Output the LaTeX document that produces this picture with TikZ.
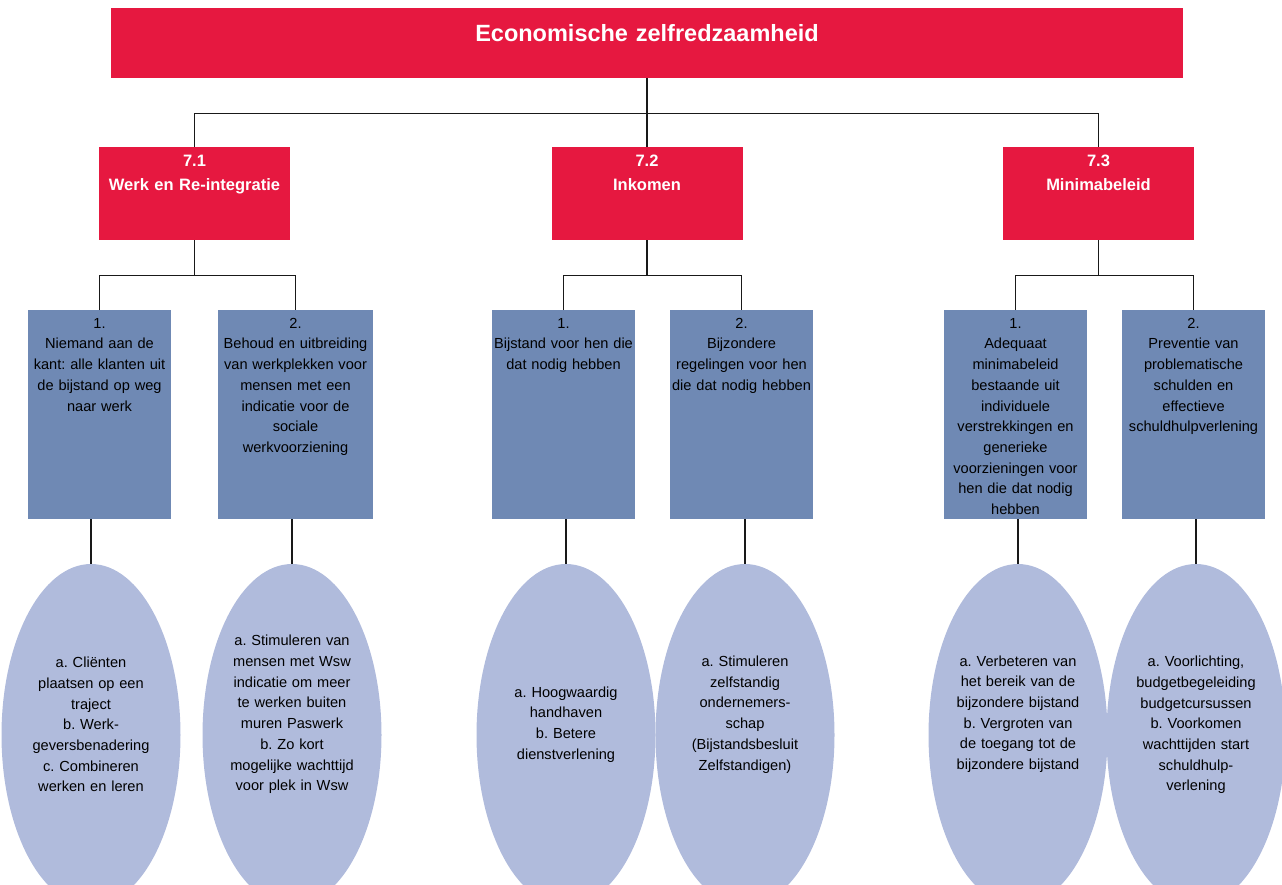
\documentclass[tikz,border=0pt]{standalone}
\usepackage{fontspec}
\setmainfont{Liberation Sans}
\usetikzlibrary{shapes.geometric}
\definecolor{myred}{RGB}{230,24,64}
\definecolor{myblue}{RGB}{111,137,180}
\definecolor{lightlilac}{RGB}{176,187,220}
\frenchspacing

\begin{document}
\begin{tikzpicture}[x=1pt,y=-1pt,
    mainbox/.style={fill=myred,text=white,inner sep=0pt,anchor=north,font=\bfseries\fontsize{23.5}{28}\selectfont,minimum width=1072pt,text width=1060pt,align=center,text height=33pt,text depth=37pt},
    themebox/.style={fill=myred,text=white,inner sep=0pt,anchor=north,font=\bfseries\fontsize{16.5}{24}\selectfont,minimum width=191pt,text width=185pt,align=center,text height=19pt,text depth=74pt},
    goalbox/.style={fill=myblue,inner sep=0pt,anchor=north,font=\fontsize{14.6}{20.7}\selectfont,minimum width=143pt,text width=139pt,align=center,text height=18pt,text depth=191pt},
    actie/.style={ellipse,fill=lightlilac,inner sep=0pt,minimum width=179pt,minimum height=342pt},
    actietext/.style={font=\fontsize{14.6}{20.7}\selectfont,text width=150pt,align=center,inner sep=0pt},
    conn/.style={line width=1.3pt,draw=black!90}]
    \useasboundingbox (0,0) rectangle (1282,884);
    \clip (0,0) rectangle (1282,884);

    % title
    \node[mainbox] (top) at (647,8) {Economische zelfredzaamheid};

    % themes
    \node[themebox] (t71) at (194.5,147) {7.1\\Werk en Re-integratie};
    \node[themebox] (t72) at (647,147) {7.2\\Inkomen};
    \node[themebox] (t73) at (1098.5,147) {7.3\\Minimabeleid};

    % goals
    \node[goalbox] (g11) at (99.5,310) {1.\\Niemand aan de\\kant: alle klanten uit\\de bijstand op weg\\naar werk};
    \node[goalbox,minimum width=155pt,text width=151pt] (g12) at (295.5,310) {2.\\Behoud en uitbreiding\\van werkplekken voor\\mensen met een\\indicatie voor de\\sociale\\werkvoorziening};
    \node[goalbox] (g21) at (563.5,310) {1.\\Bijstand voor hen die\\dat nodig hebben};
    \node[goalbox] (g22) at (741.5,310) {2.\\Bijzondere\\regelingen voor hen\\die dat nodig hebben};
    \node[goalbox] (g31) at (1015.5,310) {1.\\Adequaat\\minimabeleid\\bestaande uit\\individuele\\verstrekkingen en\\generieke\\voorzieningen voor\\hen die dat nodig\\hebben};
    \node[goalbox] (g32) at (1193.5,310) {2.\\Preventie van\\problematische\\schulden en\\effectieve\\schuldhulpverlening};

    % actions
    \node[actie] (e11) at (91,735) {};
    \node[actie] (e12) at (292,735) {};
    \node[actie] (e21) at (566,735) {};
    \node[actie] (e22) at (745,735) {};
    \node[actie] (e31) at (1018,735) {};
    \node[actie] (e32) at (1196,735) {};
    \node[actietext,yshift=10.5pt] (a11) at (e11) {a. Cliënten\\plaatsen op een\\traject\\b. Werk-\\geversbenadering\\c. Combineren\\werken en leren};
    \node[actietext,yshift=20.5pt] (a12) at (e12) {a. Stimuleren van\\mensen met Wsw\\indicatie om meer\\te werken buiten\\muren Paswerk\\b. Zo kort\\mogelijke wachttijd\\voor plek in Wsw};
    \node[actietext,yshift=10.5pt] (a21) at (e21) {a. Hoogwaardig\\handhaven\\b. Betere\\dienstverlening};
    \node[actietext,yshift=20.5pt] (a22) at (e22) {a. Stimuleren\\zelfstandig\\ondernemers-\\schap\\(Bijstandsbesluit\\Zelfstandigen)};
    \node[actietext,yshift=21pt] (a31) at (e31) {a. Verbeteren van\\het bereik van de\\bijzondere bijstand\\b. Vergroten van\\de toegang tot de\\bijzondere bijstand};
    \node[actietext,yshift=10pt] (a32) at (e32) {a. Voorlichting,\\budgetbegeleiding\\budgetcursussen\\b. Voorkomen\\wachttijden start\\schuldhulp-\\verlening};

    % lines
    \draw[conn] (top.south) -- ++(0,35) coordinate (j0);
    \draw[conn] (t71.north) |- (j0) -| (t73.north);
    \draw[conn] (j0) -- (t72.north);
    \foreach \t/\a/\b in {t71/g11/g12, t72/g21/g22, t73/g31/g32} {
        \draw[conn] (\t.south) -- ++(0,35) coordinate (j);
        \draw[conn] (\a.north) |- (j) -| (\b.north);
    }
    \foreach \g/\e in {g11/e11, g12/e12, g21/e21, g22/e22, g31/e31, g32/e32}
        \draw[conn] (\e.north) -- (\e.north |- \g.south);
\end{tikzpicture}
\end{document}
